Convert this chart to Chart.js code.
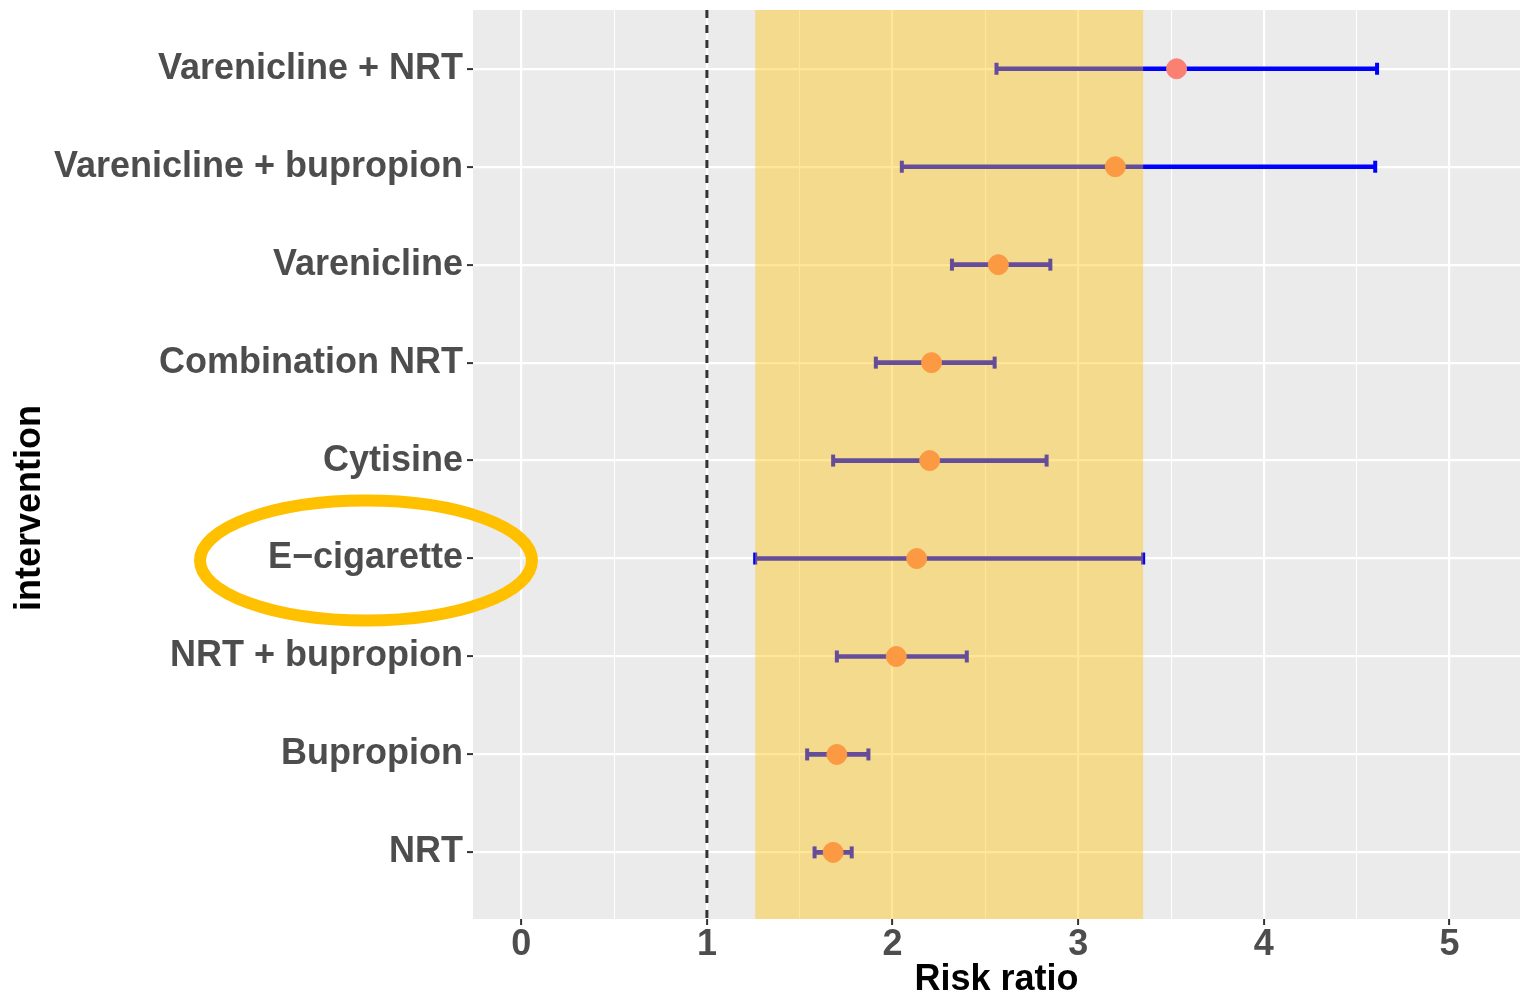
<!DOCTYPE html>
<html>
<head>
<meta charset="utf-8">
<script src="https://cdn.jsdelivr.net/npm/chart.js@4.4.1/dist/chart.umd.min.js"></script>
<style>
  html, body { margin: 0; padding: 0; background: #fff; }
  #wrap { width: 1520px; height: 995px; }
</style>
</head>
<body>
<div id="wrap"><canvas id="forest" width="1520" height="995"></canvas></div>
<script>
const interventions = [
  "Varenicline + NRT",
  "Varenicline + bupropion",
  "Varenicline",
  "Combination NRT",
  "Cytisine",
  "E\u2212cigarette",
  "NRT + bupropion",
  "Bupropion",
  "NRT",
];
const riskRatio = [3.53, 3.20, 2.57, 2.21, 2.20, 2.13, 2.02, 1.70, 1.68];
const ciLow = [2.56, 2.05, 2.32, 1.91, 1.68, 1.26, 1.70, 1.54, 1.58];
const ciHigh = [4.61, 4.60, 2.85, 2.55, 2.83, 3.35, 2.40, 1.87, 1.78];
const xTicks = [0, 1, 2, 3, 4, 5];
const refValue = 1;
const highlighted = 5; // E-cigarette row, its CI is the shaded band

const TICK_GREY = "#4D4D4D";
const FONT = "'Liberation Sans', Arial, sans-serif";
Chart.defaults.font.family = FONT;

const isMajor = (v) => Number.isInteger(Math.round(v * 1000) / 1000);

const decorations = {
  id: "decorations",
  beforeDraw(chart) {
    const { ctx, chartArea: a } = chart;
    ctx.save();
    ctx.fillStyle = "#EBEBEB";
    ctx.fillRect(a.left, a.top, a.width, a.height);
    ctx.restore();
  },
  afterDatasetsDraw(chart) {
    const { ctx, chartArea: a, scales } = chart;
    const x0 = scales.x.getPixelForValue(ciLow[highlighted]);
    const x1 = scales.x.getPixelForValue(ciHigh[highlighted]);
    ctx.save();
    ctx.fillStyle = "rgba(255, 192, 0, 0.4)";
    ctx.fillRect(x0, a.top, x1 - x0, a.height);

    const xr = scales.x.getPixelForValue(refValue);
    ctx.strokeStyle = "#333";
    ctx.lineWidth = 3;
    ctx.setLineDash([8, 7]);
    ctx.beginPath();
    ctx.moveTo(xr, a.top);
    ctx.lineTo(xr, a.bottom);
    ctx.stroke();
    ctx.restore();
  },
  afterDraw(chart) {
    const { ctx, scales } = chart;
    ctx.save();
    // y axis title
    ctx.translate(30, 508);
    ctx.rotate(-Math.PI / 2);
    ctx.fillStyle = "#000";
    ctx.font = `bold 36px ${FONT}`;
    ctx.textAlign = "center";
    ctx.textBaseline = "middle";
    ctx.fillText("intervention", 0, 0);
    ctx.restore();

    // highlight ring round the e-cigarette label
    const cy = scales.y.getPixelForValue(highlighted) + 2;
    ctx.save();
    ctx.strokeStyle = "#FFC000";
    ctx.lineWidth = 12;
    ctx.beginPath();
    ctx.ellipse(366, cy, 166, 60, 0, 0, Math.PI * 2);
    ctx.stroke();
    ctx.restore();
  },
};

const rows = interventions.map((_, i) => i);

new Chart(document.getElementById("forest"), {
  type: "bar",
  data: {
    datasets: [
      {
        type: "scatter",
        data: rows.map((i) => ({ x: riskRatio[i], y: i })),
        backgroundColor: "#FA8072",
        borderColor: "#FA8072",
        pointRadius: 10,
        pointHoverRadius: 10,
      },
      {
        type: "scatter",
        data: rows.flatMap((i) => [
          { x: ciLow[i], y: i },
          { x: ciHigh[i], y: i },
        ]),
        pointStyle: "line",
        rotation: 90,
        pointRadius: 6,
        borderWidth: 4,
        borderColor: "#0000FF",
      },
      {
        type: "bar",
        indexAxis: "y",
        data: rows.map((i) => ({ y: i, x: [ciLow[i], ciHigh[i]] })),
        backgroundColor: "#0000FF",
        barThickness: 4,
      },
    ],
  },
  options: {
    responsive: false,
    animation: false,
    devicePixelRatio: 1,
    layout: { autoPadding: false, padding: { top: 10, left: 0, right: 0, bottom: 0 } },
    plugins: {
      legend: { display: false },
      tooltip: { enabled: false },
    },
    scales: {
      x: {
        type: "linear",
        offset: false,
        min: -0.26,
        max: 5.38,
        afterBuildTicks: (s) => {
          const vals = [];
          xTicks.forEach((t) => {
            vals.push(t);
            if (t + 0.5 < s.max) vals.push(t + 0.5);
          });
          s.ticks = vals.map((v) => ({ value: v }));
        },
        grid: {
          offset: false,
          color: "#FFFFFF",
          lineWidth: (c) => (c.tick && isMajor(c.tick.value) ? 2.2 : 1),
          tickColor: (c) => (c.tick && isMajor(c.tick.value) ? "#333" : "rgba(0,0,0,0)"),
          tickWidth: 2,
          tickLength: 6,
        },
        border: { display: false },
        ticks: {
          autoSkip: false,
          maxRotation: 0,
          padding: 2,
          color: TICK_GREY,
          font: { size: 36, weight: "bold", lineHeight: 1 },
          callback: (v) => (isMajor(v) ? v : ""),
        },
        title: {
          display: true,
          text: "Risk ratio",
          color: "#000",
          font: { size: 36, weight: "bold", lineHeight: 1 },
          padding: { top: 0, bottom: -3 },
        },
        afterFit: (s) => {
          s.height = 76;
          s.paddingLeft = 0;
          s.paddingRight = 0;
        },
      },
      y: {
        type: "linear",
        offset: false,
        reverse: true,
        min: -0.6,
        max: 8.68,
        afterBuildTicks: (s) => {
          s.ticks = rows.map((i) => ({ value: i }));
        },
        grid: {
          offset: false,
          color: "#FFFFFF",
          lineWidth: 2.2,
          tickColor: "#333",
          tickWidth: 2,
          tickLength: 6,
        },
        border: { display: false },
        ticks: {
          autoSkip: false,
          padding: 4,
          color: TICK_GREY,
          font: { size: 36, weight: "bold" },
          callback: (v) => interventions[v],
        },
        afterFit: (s) => {
          s.width = 473;
          s.paddingTop = 0;
          s.paddingBottom = 0;
        },
      },
    },
  },
  plugins: [decorations],
});
</script>
</body>
</html>
